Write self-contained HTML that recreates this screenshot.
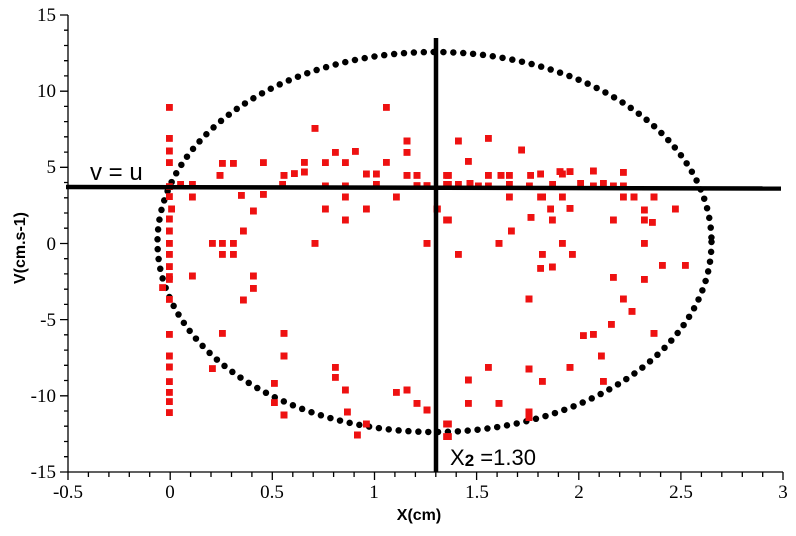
<!DOCTYPE html>
<html><head><meta charset="utf-8"><style>
html,body{margin:0;padding:0;background:#fff;}
svg{display:block;}
.t{font-family:"Liberation Serif",serif;font-size:19px;fill:#000;}
</style></head><body>
<svg width="796" height="536" viewBox="0 0 796 536" xmlns="http://www.w3.org/2000/svg">
<defs>
<marker id="s" markerWidth="21" markerHeight="21" refX="10.5" refY="10.5" markerUnits="userSpaceOnUse"><rect width="21" height="21" fill="#ee1111"/></marker>
</defs>
<g stroke="#000" stroke-width="1.3" fill="none">
<line x1="68" y1="15" x2="68" y2="472"/>
<line x1="68" y1="472" x2="783" y2="472"/>
<path d="M68 15h-8M68 91.2h-8M68 167.3h-8M68 243.5h-8M68 319.6h-8M68 395.8h-8M68 472h-8
M68 30.2h-4M68 45.5h-4M68 60.7h-4M68 75.9h-4M68 106.4h-4M68 121.6h-4M68 136.8h-4M68 152.1h-4M68 182.5h-4M68 197.8h-4M68 213h-4M68 228.2h-4M68 258.7h-4M68 273.9h-4M68 289.2h-4M68 304.4h-4M68 334.8h-4M68 350.1h-4M68 365.3h-4M68 380.5h-4M68 411h-4M68 426.2h-4M68 441.5h-4M68 456.7h-4"/>
<path d="M68 472v8M170.2 472v8M272.3 472v8M374.5 472v8M476.6 472v8M578.8 472v8M680.9 472v8M783 472v8
M88.4 472v5M108.9 472v5M129.3 472v5M149.7 472v5M190.6 472v5M211 472v5M231.5 472v5M251.9 472v5M292.8 472v5M313.2 472v5M333.6 472v5M354.1 472v5M394.9 472v5M415.4 472v5M435.8 472v5M456.2 472v5M497.1 472v5M517.5 472v5M538 472v5M558.4 472v5M599.2 472v5M619.7 472v5M640.1 472v5M660.6 472v5M701.4 472v5M721.8 472v5M742.3 472v5M762.7 472v5"/>
</g>
<g class="t" text-anchor="end">
<text x="56" y="21">15</text><text x="56" y="97">10</text><text x="56" y="173">5</text><text x="56" y="250">0</text><text x="56" y="326">-5</text><text x="56" y="402">-10</text><text x="56" y="478">-15</text>
</g>
<g class="t" text-anchor="middle">
<text x="68" y="498">-0.5</text><text x="170" y="498">0</text><text x="272" y="498">0.5</text><text x="374" y="498">1</text><text x="477" y="498">1.5</text><text x="579" y="498">2</text><text x="681" y="498">2.5</text><text x="783" y="498">3</text>
</g>
<text x="419" y="520" text-anchor="middle" font-family="Liberation Sans, sans-serif" font-weight="bold" font-size="16">X(cm)</text>
<text transform="translate(25,248) rotate(-90)" text-anchor="middle" font-family="Liberation Sans, sans-serif" font-weight="bold" font-size="16">V(cm.s-1)</text>
<ellipse cx="434.5" cy="242" rx="277" ry="190" fill="none" stroke="#000" stroke-width="6.5" stroke-linecap="round" stroke-dasharray="0 9.9"/>
<g transform="translate(160,90) scale(0.33333)">
<path fill="none" stroke="none" marker-start="url(#s)" marker-mid="url(#s)" marker-end="url(#s)" d="M28 52L28 145L28 183L28 218L28 290L28 320L35 357L28 387L28 423L28 460L28 493L28 530L28 560L28 568L8 593L28 628L28 733L28 798L28 831L28 875L28 907L28 935L28 968L62 283L97 283L97 321L97 558L157 460L187 460L220 460L187 493L220 493L187 220L220 220L180 256L187 730L157 836L244 316L250 423L280 363L280 558L280 595L250 630L310 218L310 313L343 880L343 938L372 730L372 798L372 975L372 256L368 283L403 251L433 217L433 246L465 115L465 460L496 218L496 288L496 357L526 187L556 218L556 288L556 321L556 390L526 832L526 862L556 900L562 966L586 184L619 252L649 252L649 283L619 357L592 1035L619 1002L679 52L679 217L709 321L709 907L741 153L741 187L741 256L771 256L771 287L801 287L741 900L771 940L801 460L801 960L831 357L860 256L860 283L860 390L860 1002L860 1040"/>
</g>
<g transform="translate(430,90) scale(0.33333)">
<path fill="none" stroke="none" marker-start="url(#s)" marker-mid="url(#s)" marker-end="url(#s)" d="M85 153L175 145L115 214L275 180L55 256L55 283L85 283L120 280L145 288L175 256L175 288L213 256L238 256L238 283L302 256L332 252L298 288L390 245L397 252L420 245L490 243L580 247L368 283L452 280L490 288L520 280L550 288L580 288L238 321L332 321L338 321L397 321L580 321L612 321L672 321L22 357L55 390L303 382L362 357L367 390L420 355L550 390L643 360L643 390L667 397L736 357L244 423L207 460L397 460L643 460L85 493L337 493L427 493L332 535L367 531L697 526L766 526L550 562L643 568L297 627L580 627L606 664L544 703L460 737L490 733L672 730L514 798L175 832L297 837L420 832L115 870L337 874L520 874L115 940L207 940L297 966L297 983L55 1002L55 1040"/>
</g>
<line x1="436" y1="38" x2="436" y2="472" stroke="#000" stroke-width="4.5"/>
<line x1="66" y1="187" x2="781" y2="188.5" stroke="#000" stroke-width="4.5"/>
<text x="90" y="180" font-family="Liberation Sans, sans-serif" font-size="24">v = u</text>
<text x="450" y="465" font-family="Liberation Sans, sans-serif" font-size="22">X<tspan font-size="17" font-weight="bold" dy="1">2</tspan><tspan dy="-1"> =1.30</tspan></text>
</svg>
</body></html>
